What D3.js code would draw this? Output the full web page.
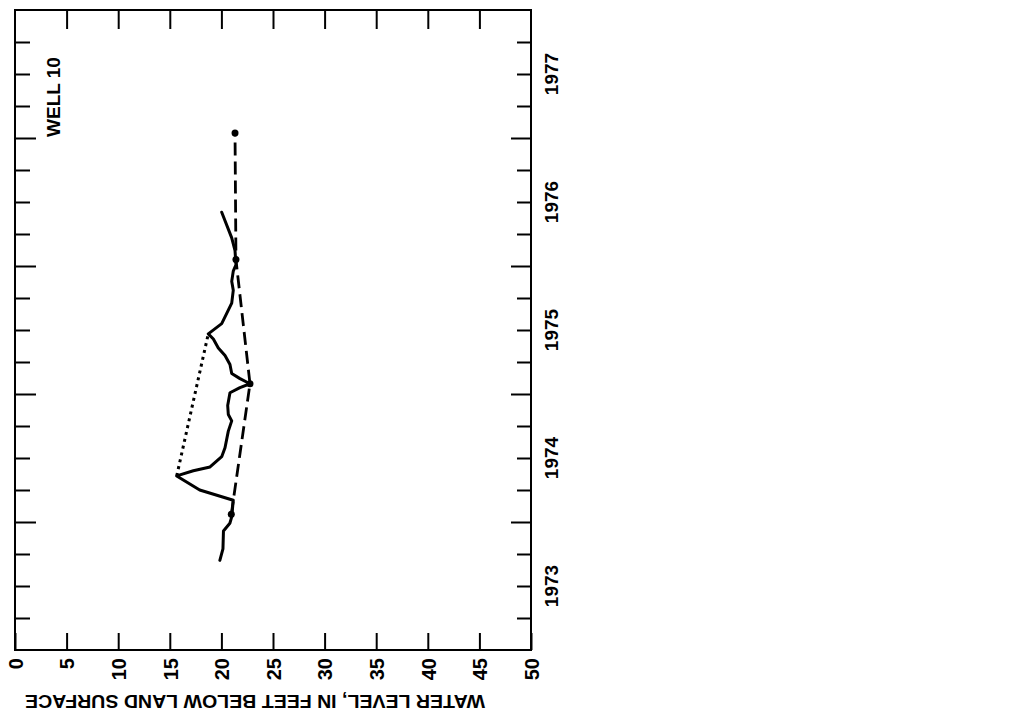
<!DOCTYPE html>
<html>
<head>
<meta charset="utf-8">
<script src="https://cdn.jsdelivr.net/npm/d3@7"></script>
<style>
  html, body { margin: 0; padding: 0; background: #fff; }
  svg { display: block; }
  text { font-family: "Liberation Sans", Arial, Helvetica, sans-serif; font-weight: bold; fill: #000; }
</style>
</head>
<body>
<svg id="chart" width="1030" height="721"></svg>
<script>
// ---- Data (water level in feet below land surface vs. decimal year) ----
const wellName = "WELL 10";
const axisTitle = "WATER LEVEL, IN FEET BELOW LAND SURFACE";
const levelTicks = [0, 5, 10, 15, 20, 25, 30, 35, 40, 45, 50];
const yearLabels = [1973, 1974, 1975, 1976, 1977];

// continuous record (solid line)
const recordTime  = [1973.70, 1973.79, 1973.93, 1973.99, 1974.04, 1974.17, 1974.25, 1974.36,
                     1974.40, 1974.43, 1974.51, 1974.58, 1974.71, 1974.79, 1974.84, 1974.91,
                     1975.01, 1975.05, 1975.08, 1975.12, 1975.16, 1975.23, 1975.30, 1975.36,
                     1975.43, 1975.47, 1975.55, 1975.71, 1975.81, 1975.88, 1975.96, 1976.01,
                     1976.12, 1976.22, 1976.42];
const recordLevel = [19.85, 20.15, 20.20, 20.82, 21.00, 21.15, 17.90, 15.67,
                     17.28, 18.90, 20.03, 20.35, 20.67, 21.00, 20.67, 20.61,
                     20.83, 21.80, 22.77, 21.80, 21.00, 20.83, 20.35, 19.70,
                     19.22, 18.73, 20.03, 21.00, 21.15, 21.00, 21.15, 21.41,
                     21.32, 21.00, 20.03];

// estimated connection (dotted line)
const dottedTime  = [1974.36, 1975.47];
const dottedLevel = [15.67, 18.73];

// periodic measurements (dashed line with dots)
const measTime  = [1974.06, 1975.08, 1976.05, 1977.04];
const measLevel = [20.96, 22.77, 21.41, 21.32];

// ---- Layout ----
const mLeft = 15, mRight = 531, mTop = 10, mBottom = 650;
const svg = d3.select("#chart");

const x = d3.scaleLinear().domain([0, 50]).range([mLeft, mRight]);
const y = d3.scaleLinear().domain([1973, 1978]).range([mBottom, mTop]);

// frame
svg.append("rect")
  .attr("x", mLeft).attr("y", mTop)
  .attr("width", mRight - mLeft).attr("height", mBottom - mTop)
  .attr("fill", "none").attr("stroke", "#000").attr("stroke-width", 2);

// bottom axis (ticks inward, labels rotated)
const gb = svg.append("g").attr("transform", `translate(0,${mBottom})`)
  .call(d3.axisBottom(x).tickValues(levelTicks).tickSizeInner(-17).tickSizeOuter(0).tickFormat(d3.format("d")));
gb.attr("font-family", null).attr("font-size", null);
gb.select(".domain").remove();
gb.selectAll("line").attr("stroke", "#000").attr("stroke-width", 2);
gb.selectAll("text")
  .attr("font-size", 20)
  .attr("fill", "#000")
  .attr("y", null).attr("dy", "0.36em")
  .attr("text-anchor", "end")
  .attr("transform", "translate(0,8) rotate(-90)");

// top axis ticks
const gt = svg.append("g").attr("transform", `translate(0,${mTop})`)
  .call(d3.axisTop(x).tickValues(levelTicks.slice(1, -1)).tickSizeInner(-19).tickSizeOuter(0).tickFormat(""));
gt.select(".domain").remove();
gt.selectAll("line").attr("stroke", "#000").attr("stroke-width", 2);

// quarter ticks on left and right
const quarters = d3.range(1973.25, 1978, 0.25);
const isYear = d => Math.abs(d - Math.round(d)) < 1e-6;

const gl = svg.append("g").attr("transform", `translate(${mLeft},0)`)
  .call(d3.axisLeft(y).tickValues(quarters).tickSizeInner(-15).tickSizeOuter(0).tickFormat(""));
gl.select(".domain").remove();
gl.selectAll(".tick line").attr("stroke", "#000").attr("stroke-width", 2)
  .attr("x2", d => isYear(d) ? 21 : 15);

const gr = svg.append("g").attr("transform", `translate(${mRight},0)`)
  .call(d3.axisRight(y).tickValues(quarters).tickSizeInner(-14).tickSizeOuter(0).tickFormat(""));
gr.select(".domain").remove();
gr.selectAll(".tick line").attr("stroke", "#000").attr("stroke-width", 2)
  .attr("x2", d => isYear(d) ? -20 : -14);

// year labels (mid-year, rotated)
svg.append("g").selectAll("text").data(yearLabels).enter().append("text")
  .attr("font-size", 19)
  .attr("text-anchor", "middle")
  .attr("dy", "0.36em")
  .attr("transform", d => `translate(551,${y(d + 0.5)}) rotate(-90)`)
  .text(d => d);

// well label
svg.append("text")
  .attr("font-size", 19)
  .attr("text-anchor", "middle")
  .attr("dy", "0.36em")
  .attr("transform", `translate(${x(3.7)},${y(1977.32)}) rotate(-90)`)
  .text(wellName);

// axis title (upside down)
svg.append("text")
  .attr("font-size", 19)
  .attr("text-anchor", "middle")
  .attr("textLength", 460)
  .attr("lengthAdjust", "spacingAndGlyphs")
  .attr("transform", `translate(255,695) rotate(180)`)
  .text(axisTitle);

// ---- Data lines ----
const line = d3.line().x(d => x(d[1])).y(d => y(d[0]));

const recordPts = recordTime.map((t, i) => [t, recordLevel[i]]);
const dottedPts = dottedTime.map((t, i) => [t, dottedLevel[i]]);
const measPts = measTime.map((t, i) => [t, measLevel[i]]);

svg.append("path").datum(dottedPts)
  .attr("d", line).attr("fill", "none").attr("stroke", "#000")
  .attr("stroke-width", 3).attr("stroke-dasharray", "3,4");

svg.append("path").datum(measPts)
  .attr("d", line).attr("fill", "none").attr("stroke", "#000")
  .attr("stroke-width", 2.8).attr("stroke-dasharray", "13,6");

svg.append("path").datum(recordPts)
  .attr("d", line).attr("fill", "none").attr("stroke", "#000")
  .attr("stroke-width", 3).attr("stroke-linejoin", "round").attr("stroke-linecap", "round");

svg.append("g").selectAll("circle").data(measPts).enter().append("circle")
  .attr("cx", d => x(d[1])).attr("cy", d => y(d[0])).attr("r", 3.5).attr("fill", "#000");
</script>
</body>
</html>
